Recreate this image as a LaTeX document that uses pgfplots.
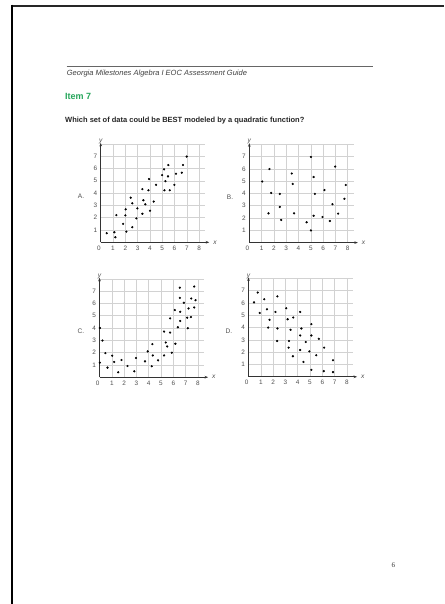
\documentclass[border=0pt]{standalone}
\usepackage{fontspec}
\setmainfont{Liberation Sans}
\newfontfamily\pagenumfont{Liberation Serif}
\usepackage{pgfplots}
\pgfplotsset{compat=1.18}
\usetikzlibrary{arrows.meta}

\definecolor{itemgreen}{RGB}{38,166,91}
\definecolor{gridgray}{RGB}{210,210,210}
\definecolor{labgray}{RGB}{80,80,80}

\pgfplotsset{
  scatgrid/.style={
    anchor=south west,
    x=12.3pt, y=12.3pt,
    xmin=0, xmax=8.5, ymin=0, ymax=8,
    axis lines=left,
    axis line style={black!80, line width=0.65pt},
    x axis line style={-{Stealth[length=3.5pt,width=2.6pt]}, shorten >=-4pt},
    y axis line style={-{Stealth[length=3.5pt,width=2.6pt]}, shorten >=-1pt},
    xtick={0,...,8},
    xticklabels={\llap{0},1,2,3,4,5,6,7,8},
    ytick={1,...,8},
    yticklabels={1,2,3,4,5,6,7,{}},
    major tick length=0pt,
    grid=major,
    grid style={gridgray, line width=0.45pt},
    tick label style={font=\fontsize{6.4}{7}\selectfont, text=labgray},
    clip=false,
  },
  dots/.style={only marks, mark=*, mark size=0.9pt, black},
}

\begin{document}
\begin{tikzpicture}
\useasboundingbox (0pt,0pt) rectangle (444pt,-604pt);
\fill[white] (0pt,0pt) rectangle (444pt,-604pt);

% page frame
\draw[black!85, line width=2pt] (11pt,-5.7pt) -- (444pt,-5.7pt);
\draw[black, line width=2.3pt] (12.2pt,-4.7pt) -- (12.2pt,-604pt);

% header
\draw[black!60, line width=0.7pt] (66.7pt,-66.7pt) -- (373.3pt,-66.7pt);
\node[anchor=base west, inner sep=0pt, text=black!75,
      font=\fontsize{7.5}{9}\selectfont\itshape] at (66.7pt,-75.6pt)
  {Georgia Milestones Algebra I EOC Assessment Guide};
\node[anchor=base west, inner sep=0pt, text=itemgreen,
      font=\fontsize{9}{11}\selectfont\bfseries] at (65pt,-100pt) {Item 7};
\node[anchor=base west, inner sep=0pt, text=black!85,
      font=\fontsize{7.5}{9}\selectfont\bfseries] at (65pt,-123pt)
  {Which set of data could be BEST modeled by a quadratic function?};

% A
\begin{axis}[scatgrid, at={(100.7pt,-242.3pt)}]
\addplot[dots] coordinates {
(0.49,0.74) (1.11,0.82) (1.19,0.41) (1.27,2.21) (1.82,1.50) (2.03,2.68)
(2.01,2.19) (2.09,0.87) (2.44,3.63) (2.57,3.17) (2.57,1.23) (2.90,1.94)
(2.98,2.76) (3.39,4.32) (3.47,3.42) (3.63,3.09) (3.39,2.32) (3.88,4.23)
(3.93,5.14) (4.01,2.57) (4.31,3.31) (4.50,4.67) (4.99,5.46) (5.15,5.93)
(5.26,4.97) (5.18,4.23) (5.50,6.28) (5.47,5.36) (5.61,4.23) (5.99,4.67)
(6.12,5.57) (6.59,5.66) (6.69,6.28) (6.99,6.97)
};
\end{axis}

% B
\begin{axis}[scatgrid, at={(249.3pt,-242.6pt)}]
\addplot[dots] coordinates {
(1.05,4.97) (1.64,5.98) (1.78,4.04) (1.56,2.38) (2.48,3.96) (2.48,2.90)
(2.59,1.84) (3.45,5.62) (3.53,4.77) (3.64,2.38) (4.66,1.65) (5.01,6.96)
(5.01,0.99) (5.23,5.33) (5.23,2.18) (5.33,3.96) (5.95,2.08) (6.11,4.27)
(6.55,1.76) (6.76,3.12) (6.98,6.18) (7.22,2.36) (7.73,3.56) (7.84,4.68)
};
\end{axis}

% C
\begin{axis}[scatgrid, at={(99.5pt,-377.2pt)}]
\addplot[dots] coordinates {
(0.03,1.18) (0.03,4.00) (0.24,2.98) (0.48,1.96) (0.65,0.78) (1.03,1.75)
(1.19,1.24) (1.52,0.40) (1.79,1.40) (2.28,0.91) (2.83,0.48) (2.97,1.56)
(3.70,1.29) (3.92,2.10) (4.25,0.89) (4.30,2.69) (4.33,1.77) (4.76,1.37)
(5.25,3.71) (5.25,1.77) (5.39,2.82) (5.50,2.50) (5.74,4.78) (5.74,3.63)
(5.88,1.99) (6.12,5.46) (6.17,2.72) (6.37,4.06) (6.53,7.28) (6.53,6.45)
(6.56,5.32) (6.56,4.57) (6.86,6.05) (7.13,4.84) (7.18,3.98) (7.24,5.59)
(7.43,4.89) (7.46,6.40) (7.70,7.37) (7.70,5.67) (7.81,6.26)
};
\end{axis}

% D
\begin{axis}[scatgrid, at={(248.5pt,-376.8pt)}]
\addplot[dots] coordinates {
(0.45,6.05) (0.75,6.85) (0.91,5.19) (1.28,6.30) (1.50,5.49) (1.71,4.63)
(1.60,4.00) (2.19,5.27) (2.35,6.54) (2.35,3.93) (2.33,2.91) (3.07,5.57)
(3.18,4.68) (3.29,2.91) (3.26,2.37) (3.42,3.82) (3.64,4.82) (3.61,1.67)
(4.20,5.27) (4.20,3.36) (4.20,2.18) (4.30,3.93) (4.47,1.21) (4.65,2.83)
(4.95,2.07) (5.11,4.28) (5.11,3.36) (5.11,0.56) (5.51,1.75) (5.72,3.09)
(6.15,2.37) (6.12,0.46) (6.87,1.35) (6.87,0.38)
};
\end{axis}

% axis names and option letters
\begin{scope}[every node/.style={inner sep=0pt, text=labgray,
    font=\fontsize{6.6}{8}\selectfont}]
\node at (100.7pt,-141pt) {\itshape y};
\node at (249.3pt,-141pt) {\itshape y};
\node at (99.5pt,-276pt) {\itshape y};
\node at (248.5pt,-276pt) {\itshape y};
\node at (215pt,-242.3pt) {\itshape x};
\node at (363.5pt,-242.6pt) {\itshape x};
\node at (213.8pt,-377.2pt) {\itshape x};
\node at (362.8pt,-376.8pt) {\itshape x};
\node at (81pt,-196.7pt) {A.};
\node at (230pt,-197pt) {B.};
\node at (81pt,-331.7pt) {C.};
\node at (229pt,-331.7pt) {D.};
\end{scope}

% page number
\node[inner sep=0pt, font=\pagenumfont\fontsize{7}{8}\selectfont, text=black!80]
  at (393.3pt,-565pt) {6};
\end{tikzpicture}
\end{document}
